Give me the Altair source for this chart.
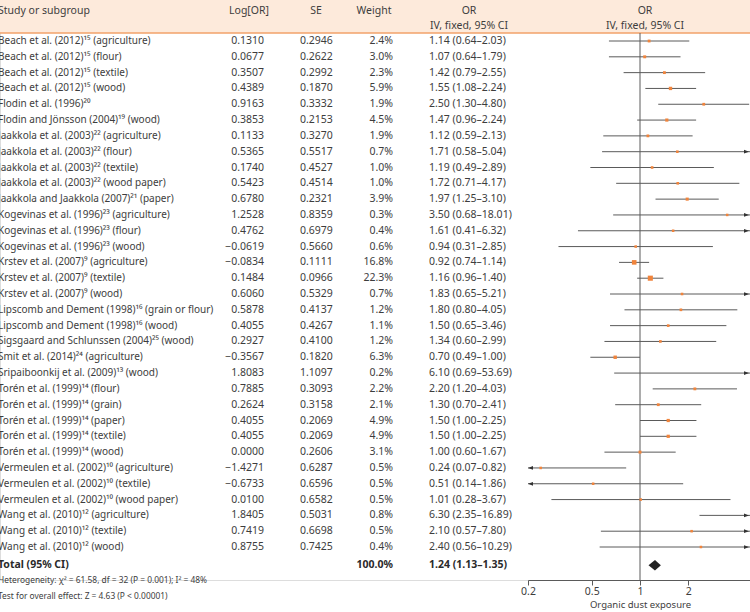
import altair as alt
import pandas as pd

# ---------------- data ----------------
studies = [
    "Beach et al. (2012)¹⁵ (agriculture)",
    "Beach et al. (2012)¹⁵ (flour)",
    "Beach et al. (2012)¹⁵ (textile)",
    "Beach et al. (2012)¹⁵ (wood)",
    "Flodin et al. (1996)²⁰",
    "Flodin and Jönsson (2004)¹⁹ (wood)",
    "Jaakkola et al. (2003)²² (agriculture)",
    "Jaakkola et al. (2003)²² (flour)",
    "Jaakkola et al. (2003)²² (textile)",
    "Jaakkola et al. (2003)²² (wood paper)",
    "Jaakkola and Jaakkola (2007)²¹ (paper)",
    "Kogevinas et al. (1996)²³ (agriculture)",
    "Kogevinas et al. (1996)²³ (flour)",
    "Kogevinas et al. (1996)²³ (wood)",
    "Krstev et al. (2007)⁹ (agriculture)",
    "Krstev et al. (2007)⁹ (textile)",
    "Krstev et al. (2007)⁹ (wood)",
    "Lipscomb and Dement (1998)¹⁶ (grain or flour)",
    "Lipscomb and Dement (1998)¹⁶ (wood)",
    "Sigsgaard and Schlunssen (2004)²⁵ (wood)",
    "Smit et al. (2014)²⁴ (agriculture)",
    "Sripaiboonkij et al. (2009)¹³ (wood)",
    "Torén et al. (1999)¹⁴ (flour)",
    "Torén et al. (1999)¹⁴ (grain)",
    "Torén et al. (1999)¹⁴ (paper)",
    "Torén et al. (1999)¹⁴ (textile)",
    "Torén et al. (1999)¹⁴ (wood)",
    "Vermeulen et al. (2002)¹⁰ (agriculture)",
    "Vermeulen et al. (2002)¹⁰ (textile)",
    "Vermeulen et al. (2002)¹⁰ (wood paper)",
    "Wang et al. (2010)¹² (agriculture)",
    "Wang et al. (2010)¹² (textile)",
    "Wang et al. (2010)¹² (wood)",
]
log_or = [0.1310, 0.0677, 0.3507, 0.4389, 0.9163, 0.3853, 0.1133, 0.5365, 0.1740,
          0.5423, 0.6780, 1.2528, 0.4762, -0.0619, -0.0834, 0.1484, 0.6060, 0.5878,
          0.4055, 0.2927, -0.3567, 1.8083, 0.7885, 0.2624, 0.4055, 0.4055, 0.0000,
          -1.4271, -0.6733, 0.0100, 1.8405, 0.7419, 0.8755]
se = [0.2946, 0.2622, 0.2992, 0.1870, 0.3332, 0.2153, 0.3270, 0.5517, 0.4527,
      0.4514, 0.2321, 0.8359, 0.6979, 0.5660, 0.1111, 0.0966, 0.5329, 0.4137,
      0.4267, 0.4100, 0.1820, 1.1097, 0.3093, 0.3158, 0.2069, 0.2069, 0.2606,
      0.6287, 0.6596, 0.6582, 0.5031, 0.6698, 0.7425]
weight = [2.4, 3.0, 2.3, 5.9, 1.9, 4.5, 1.9, 0.7, 1.0, 1.0, 3.9, 0.3, 0.4, 0.6,
          16.8, 22.3, 0.7, 1.2, 1.1, 1.2, 6.3, 0.2, 2.2, 2.1, 4.9, 4.9, 3.1,
          0.5, 0.5, 0.5, 0.8, 0.5, 0.4]
or_val = [1.14, 1.07, 1.42, 1.55, 2.50, 1.47, 1.12, 1.71, 1.19, 1.72, 1.97, 3.50,
          1.61, 0.94, 0.92, 1.16, 1.83, 1.80, 1.50, 1.34, 0.70, 6.10, 2.20, 1.30,
          1.50, 1.50, 1.00, 0.24, 0.51, 1.01, 6.30, 2.10, 2.40]
ci_lo = [0.64, 0.64, 0.79, 1.08, 1.30, 0.96, 0.59, 0.58, 0.49, 0.71, 1.25, 0.68,
         0.41, 0.31, 0.74, 0.96, 0.65, 0.80, 0.65, 0.60, 0.49, 0.69, 1.20, 0.70,
         1.00, 1.00, 0.60, 0.07, 0.14, 0.28, 2.35, 0.57, 0.56]
ci_hi = [2.03, 1.79, 2.55, 2.24, 4.80, 2.24, 2.13, 5.04, 2.89, 4.17, 3.10, 18.01,
         6.32, 2.85, 1.14, 1.40, 5.21, 4.05, 3.46, 2.99, 1.00, 53.69, 4.03, 2.41,
         2.25, 2.25, 1.67, 0.82, 1.86, 3.67, 16.89, 7.80, 10.29]

total_weight = 100.0
total_or = 1.24
total_lo = 1.13
total_hi = 1.35
heterogeneity = "Heterogeneity: χ² = 61.58, df = 32 (P = 0.001); I² = 48%"
overall = "Test for overall effect: Z = 4.63 (P < 0.00001)"
x_ticks = [0.2, 0.5, 1, 2]
x_title = "Organic dust exposure"
XMIN, XMAX = 0.2, 5.0

# ---------------- styling ----------------
FONT = "Noto Sans"
FS = 10.5
FS_NAME = 10.0
TXT = "#3d3d3d"
LINE = "#5a5a5a"
ORANGE = "#f0843c"
HEADER_BG = "#fdeadb"
HEADER_LINE = "#f2a26a"
LEFT = -2

df = pd.DataFrame(dict(study=studies, log_or=log_or, se=se, weight=weight,
                       or_val=or_val, lo=ci_lo, hi=ci_hi))
df["row"] = list(range(len(df)))
df["log_txt"] = [f"{v:.4f}".replace("-", "−") for v in df.log_or]
df["se_txt"] = [f"{v:.4f}" for v in df.se]
df["w_txt"] = [f"{v:.1f}%" for v in df.weight]
df["or_txt"] = [f"{o:.2f} ({l:.2f}–{h:.2f})" for o, l, h in zip(df.or_val, df.lo, df.hi)]
df["lo_c"] = df.lo.clip(lower=XMIN)
df["hi_c"] = df.hi.clip(upper=XMAX)

n = len(df)
total_row = n + 0.16
foot_rows = [n + 1.07, n + 2.08]

xscale = alt.Scale(type="log", domain=[XMIN, XMAX], range=[528, 752], nice=False)
yscale = alt.Scale(domain=[0, n - 1], range=[41, 547], nice=False, zero=False)
AX = alt.Axis(values=x_ticks, title=x_title, grid=False, labelFlush=False,
              domainColor=LINE, tickColor=LINE, labelColor=TXT, titleColor=TXT,
              labelFont=FONT, titleFont=FONT, labelFontSize=10.5, titleFontSize=9.5,
              titleFontWeight="normal", tickSize=5, labelPadding=1, titlePadding=3,
              format="~g")
Y = alt.Y("row:Q", scale=yscale, axis=None)

one = pd.DataFrame({"a": [0]})
layers = []

# header band
layers.append(alt.Chart(one).mark_rect(color=HEADER_BG).encode(
    x=alt.value(0), x2=alt.value(750), y=alt.value(0), y2=alt.value(33)))
layers.append(alt.Chart(one).mark_rule(color=HEADER_LINE, strokeWidth=1.5).encode(
    x=alt.value(0), x2=alt.value(750), y=alt.value(33)))

headers = [
    ("Study or subgroup", LEFT, 11, "left"),
    ("Log[OR]", 249, 11, "center"),
    ("SE", 316, 11, "center"),
    ("Weight", 374, 11, "center"),
    ("OR", 469, 11, "center"),
    ("IV, fixed, 95% CI", 469, 26, "center"),
    ("OR", 645, 11, "center"),
    ("IV, fixed, 95% CI", 645, 26, "center"),
]
for s, hx, hy, al in headers:
    layers.append(alt.Chart(one).mark_text(
        font=FONT, fontSize=10.5, color=TXT, align=al, baseline="middle").encode(
        x=alt.value(hx), y=alt.value(hy), text=alt.value(s)))

# table columns
cols = [("study:N", LEFT, "left", FS_NAME), ("log_txt:N", 264, "right", FS),
        ("se_txt:N", 300, "left", FS), ("w_txt:N", 393, "right", FS),
        ("or_txt:N", 429, "left", FS)]
for field, cx, al, fs in cols:
    layers.append(alt.Chart(df).mark_text(
        font=FONT, fontSize=fs, color=TXT, align=al, baseline="middle").encode(
        x=alt.value(cx), y=Y, text=field))

# total row
tot = pd.DataFrame({"row": [total_row], "lab": ["Total (95% CI)"],
                    "w": [f"{total_weight:.1f}%"],
                    "ci": [f"{total_or:.2f} ({total_lo:.2f}–{total_hi:.2f})"]})
for field, cx, al in [("lab:N", LEFT, "left"), ("w:N", 393, "right"), ("ci:N", 429, "left")]:
    layers.append(alt.Chart(tot).mark_text(
        font=FONT, fontSize=FS, color="#2a2a2a", fontWeight="bold", align=al,
        baseline="middle").encode(x=alt.value(cx), y=Y, text=field))

foot = pd.DataFrame({"row": foot_rows, "t": [heterogeneity, overall]})
layers.append(alt.Chart(foot).mark_text(
    font=FONT, fontSize=8.4, color=TXT, align="left", baseline="middle").encode(
    x=alt.value(LEFT), y=Y, text="t:N"))

# reference line at OR = 1
layers.append(alt.Chart(pd.DataFrame({"v": [1.0]})).mark_rule(color=LINE, strokeWidth=1).encode(
    x=alt.X("v:Q", scale=xscale, axis=AX), y=alt.value(33), y2=alt.value(580)))

# CI lines
layers.append(alt.Chart(df).mark_rule(color=LINE, strokeWidth=1).encode(
    x=alt.X("lo_c:Q", scale=xscale, axis=AX), x2="hi_c:Q", y=Y))

# arrows
right_arrow = "M1,0L-1,-0.75L-1,0.75Z"
left_arrow = "M-1,0L1,-0.75L1,0.75Z"
layers.append(alt.Chart(df[df.hi > XMAX]).mark_point(
    shape=right_arrow, filled=True, color="#333333", size=25, opacity=1, xOffset=-5.5).encode(
    x=alt.X("hi_c:Q", scale=xscale, axis=AX), y=Y))
layers.append(alt.Chart(df[df.lo < XMIN]).mark_point(
    shape=left_arrow, filled=True, color="#333333", size=25, opacity=1, xOffset=2.5).encode(
    x=alt.X("lo_c:Q", scale=xscale, axis=AX), y=Y))

# squares
sq = df[(df.or_val >= XMIN) & (df.or_val <= XMAX)]
layers.append(alt.Chart(sq).mark_square(color=ORANGE, opacity=1).encode(
    x=alt.X("or_val:Q", scale=xscale, axis=AX), y=Y,
    size=alt.Size("weight:Q", scale=alt.Scale(domain=[0, 22.3], range=[6, 26]), legend=None)))

# total diamond
h = 0.33
dia = pd.DataFrame({"x": [total_lo, total_or, total_hi],
                    "y": [total_row, total_row - h, total_row],
                    "y2": [total_row, total_row + h, total_row]})
layers.append(alt.Chart(dia).mark_area(color="#222222", orient="vertical", opacity=1).encode(
    x=alt.X("x:Q", scale=xscale, axis=AX),
    y=alt.Y("y:Q", scale=yscale, axis=None), y2="y2:Q"))

chart = alt.layer(*layers).properties(
    width=750, height=580,
    autosize=alt.AutoSizeParams(type="none"),
    padding={"left": 0, "right": 0, "top": 0, "bottom": 32},
).configure_view(stroke=None).configure(background="white")

chart.save("out.html", embed_options={"renderer": "svg", "actions": False})
